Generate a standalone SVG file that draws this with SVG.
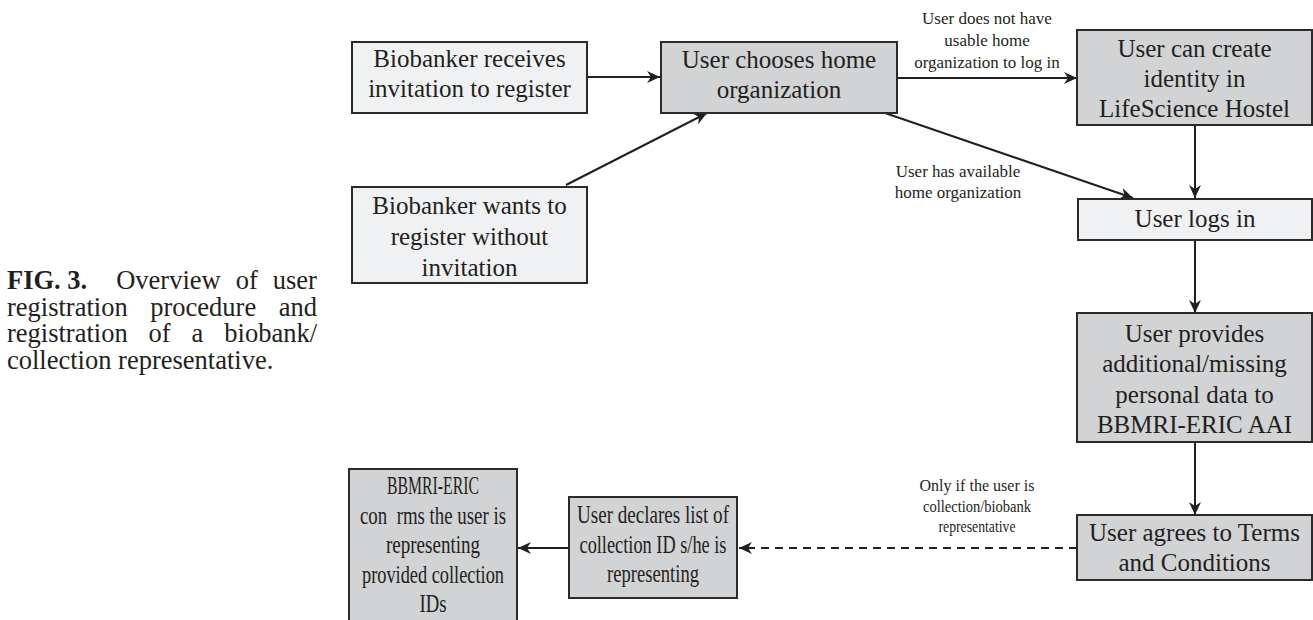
<svg xmlns="http://www.w3.org/2000/svg" width="1313" height="620" viewBox="0 0 1313 620">
<defs>
<style>
text{font-family:"Liberation Serif","Times New Roman",serif;fill:#231f20}
.n{font-size:25px;text-anchor:middle}
.l{font-size:17px;text-anchor:middle}
.c{font-size:26.5px}
.b{font-weight:bold}
.dk{fill:#d1d3d4;stroke:#2b2b2b;stroke-width:2}
.lt{fill:#f0f1f3;stroke:#2b2b2b;stroke-width:2}
.e{fill:none;stroke:#231f20;stroke-width:2}
.d{stroke-dasharray:8 6}
</style>
<marker id="ah" markerUnits="userSpaceOnUse" markerWidth="14" markerHeight="12" refX="13" refY="6" orient="auto">
<path d="M0,0 L13,6 L0,12 L4,6 Z" fill="#231f20"/>
</marker>
</defs>
<rect width="1313" height="620" fill="#ffffff"/>
<g id="caption">
<text class="c b" x="7" y="289">FIG. 3.</text>
<text class="c" x="116.2" y="289">Overview</text>
<text class="c" x="235.7" y="289">of</text>
<text class="c" x="272.8" y="289">user</text>
<text class="c" x="7" y="315.5">registration</text>
<text class="c" x="150.25" y="315.5">procedure</text>
<text class="c" x="278.7" y="315.5">and</text>
<text class="c" x="7" y="342">registration</text>
<text class="c" x="148.6" y="342">of</text>
<text class="c" x="191.6" y="342">a</text>
<text class="c" x="224.3" y="342">biobank/</text>
<text class="c" x="7" y="368.5">collection representative.</text>
</g>
<g id="connectors">
<line class="e" x1="587" y1="77" x2="660" y2="77" marker-end="url(#ah)"/>
<line class="e" x1="566" y1="185" x2="707" y2="113" marker-end="url(#ah)"/>
<line class="e" x1="897" y1="78" x2="1077" y2="78" marker-end="url(#ah)"/>
<line class="e" x1="885" y1="113" x2="1133" y2="198" marker-end="url(#ah)"/>
<line class="e" x1="1195" y1="125" x2="1195" y2="198" marker-end="url(#ah)"/>
<line class="e" x1="1195" y1="240" x2="1195" y2="313" marker-end="url(#ah)"/>
<line class="e" x1="1195" y1="442" x2="1195" y2="515" marker-end="url(#ah)"/>
<line class="e d" x1="1077" y1="548" x2="739" y2="548" marker-end="url(#ah)"/>
<line class="e" x1="569" y1="548" x2="518" y2="548" marker-end="url(#ah)"/>
<text class="l" x="987" y="24">User does not have</text>
<text class="l" x="987" y="46">usable home</text>
<text class="l" x="987" y="68">organization to log in</text>
<text class="l" x="958" y="177">User has available</text>
<text class="l" x="958" y="198">home organization</text>
<text class="l" x="977" y="491" textLength="115" lengthAdjust="spacingAndGlyphs">Only if the user is</text>
<text class="l" x="977" y="512" textLength="108" lengthAdjust="spacingAndGlyphs">collection/biobank</text>
<text class="l" x="977" y="532" textLength="77" lengthAdjust="spacingAndGlyphs">representative</text>
</g>
<g id="n1">
<rect class="lt" x="352" y="42" width="235" height="71"/>
<text class="n" x="469.5" y="67">Biobanker receives</text>
<text class="n" x="469.5" y="97">invitation to register</text>
</g>
<g id="n2">
<rect class="dk" x="661" y="42" width="236" height="71"/>
<text class="n" x="779" y="68">User chooses home</text>
<text class="n" x="779" y="98">organization</text>
</g>
<g id="n3">
<rect class="dk" x="1077" y="30" width="235" height="95"/>
<text class="n" x="1194.5" y="57">User can create</text>
<text class="n" x="1194.5" y="87">identity in</text>
<text class="n" x="1194.5" y="117">LifeScience Hostel</text>
</g>
<g id="n4">
<rect class="lt" x="352" y="187" width="235" height="96"/>
<text class="n" x="469.5" y="214">Biobanker wants to</text>
<text class="n" x="469.5" y="245">register without</text>
<text class="n" x="469.5" y="276">invitation</text>
</g>
<g id="n5">
<rect class="lt" x="1078" y="199" width="234" height="41"/>
<text class="n" x="1195" y="227">User logs in</text>
</g>
<g id="n6">
<rect class="dk" x="1077" y="313" width="235" height="129"/>
<text class="n" x="1194.5" y="342">User provides</text>
<text class="n" x="1194.5" y="372">additional/missing</text>
<text class="n" x="1194.5" y="403">personal data to</text>
<text class="n" x="1194.5" y="433">BBMRI-ERIC AAI</text>
</g>
<g id="n7">
<rect class="dk" x="1077" y="515" width="235" height="65"/>
<text class="n" x="1194.5" y="541">User agrees to Terms</text>
<text class="n" x="1194.5" y="571">and Conditions</text>
</g>
<g id="n8">
<rect class="dk" x="569" y="497" width="168" height="101"/>
<text class="n" x="653" y="523" textLength="152" lengthAdjust="spacingAndGlyphs">User declares list of</text>
<text class="n" x="653" y="553" textLength="147" lengthAdjust="spacingAndGlyphs">collection ID s/he is</text>
<text class="n" x="653" y="582" textLength="92" lengthAdjust="spacingAndGlyphs">representing</text>
</g>
<g id="n9">
<rect class="dk" x="349" y="469" width="168" height="160"/>
<text class="n" x="433" y="494" textLength="92" lengthAdjust="spacingAndGlyphs">BBMRI-ERIC</text>
<text class="n" x="433" y="524" textLength="146" lengthAdjust="spacingAndGlyphs" style="white-space:pre">con  rms the user is</text>
<text class="n" x="433" y="553" textLength="94" lengthAdjust="spacingAndGlyphs">representing</text>
<text class="n" x="433" y="583" textLength="142" lengthAdjust="spacingAndGlyphs">provided collection</text>
<text class="n" x="433" y="612" textLength="27" lengthAdjust="spacingAndGlyphs">IDs</text>
</g>
</svg>
